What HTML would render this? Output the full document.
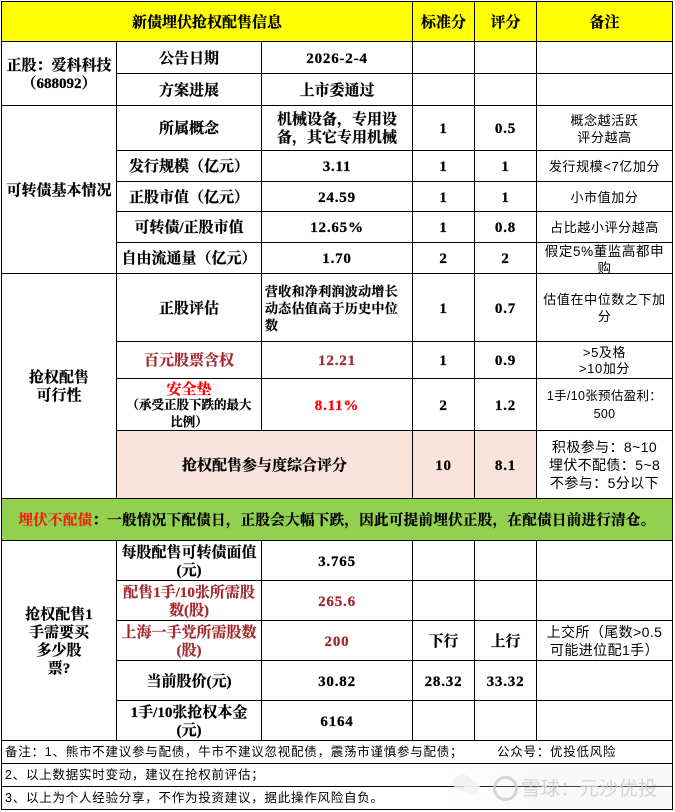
<!DOCTYPE html>
<html lang="zh">
<head>
<meta charset="utf-8">
<style>
html,body{margin:0;padding:0;background:#fff;}
#p{position:relative;width:675px;height:812px;overflow:hidden;background:#fff;font-family:"Liberation Serif","Noto Serif CJK SC",serif;color:#000;}
.c{position:absolute;display:flex;align-items:center;justify-content:center;text-align:center;box-sizing:border-box;font-size:15px;font-weight:700;line-height:18px;white-space:nowrap;padding-top:2px;-webkit-text-stroke:.25px currentColor;}
.n{font-family:"Liberation Serif","Noto Serif CJK SC",serif;font-size:15px;font-weight:700;letter-spacing:.8px;}
.s{font-family:"Liberation Sans","Noto Sans CJK SC",sans-serif;font-weight:400;font-size:13px;line-height:17px;letter-spacing:.6px;-webkit-text-stroke:0;padding-top:1px;}
.l{position:absolute;background:#000;}
.red{color:#a2292f;}
.bright{color:#f00;}
.f{position:absolute;left:5px;font-family:"Liberation Sans","Noto Sans CJK SC",sans-serif;font-size:12.5px;line-height:16px;white-space:nowrap;letter-spacing:.75px;}
</style>
</head>
<body>
<div id="p">
<!-- fills -->
<div style="position:absolute;left:1px;top:1px;width:672px;height:40px;background:#ffff00"></div>
<div style="position:absolute;left:116px;top:430px;width:420px;height:68px;background:#f9e3da"></div>
<div style="position:absolute;left:1px;top:498px;width:672px;height:42px;background:#92d050"></div>

<!-- horizontal lines -->
<div class="l" style="left:1px;top:1px;width:672px;height:1px"></div>
<div class="l" style="left:1px;top:41px;width:672px;height:1px"></div>
<div class="l" style="left:116px;top:73px;width:557px;height:1px"></div>
<div class="l" style="left:1px;top:105px;width:672px;height:1px"></div>
<div class="l" style="left:116px;top:150px;width:557px;height:1px"></div>
<div class="l" style="left:116px;top:181px;width:557px;height:1px"></div>
<div class="l" style="left:116px;top:211px;width:557px;height:1px"></div>
<div class="l" style="left:116px;top:242px;width:557px;height:1px"></div>
<div class="l" style="left:1px;top:273px;width:672px;height:1px"></div>
<div class="l" style="left:116px;top:341px;width:557px;height:1px"></div>
<div class="l" style="left:116px;top:378px;width:557px;height:1px"></div>
<div class="l" style="left:116px;top:430px;width:557px;height:1px"></div>
<div class="l" style="left:1px;top:498px;width:672px;height:1px"></div>
<div class="l" style="left:1px;top:540px;width:672px;height:1px"></div>
<div class="l" style="left:116px;top:580px;width:557px;height:1px"></div>
<div class="l" style="left:116px;top:620px;width:557px;height:1px"></div>
<div class="l" style="left:116px;top:660px;width:557px;height:1px"></div>
<div class="l" style="left:116px;top:700px;width:557px;height:1px"></div>
<div class="l" style="left:1px;top:740px;width:672px;height:1px"></div>
<div class="l" style="left:1px;top:763px;width:672px;height:1px"></div>
<div class="l" style="left:1px;top:786px;width:672px;height:1px"></div>
<div class="l" style="left:1px;top:809px;width:672px;height:1px"></div>

<!-- vertical lines -->
<div class="l" style="left:1px;top:1px;width:1px;height:809px"></div>
<div class="l" style="left:672px;top:1px;width:1px;height:809px"></div>
<div class="l" style="left:116px;top:41px;width:1px;height:457px"></div>
<div class="l" style="left:116px;top:540px;width:1px;height:200px"></div>
<div class="l" style="left:261px;top:41px;width:1px;height:389px"></div>
<div class="l" style="left:261px;top:540px;width:1px;height:200px"></div>
<div class="l" style="left:412px;top:1px;width:1px;height:497px"></div>
<div class="l" style="left:412px;top:540px;width:1px;height:200px"></div>
<div class="l" style="left:474px;top:1px;width:1px;height:497px"></div>
<div class="l" style="left:474px;top:540px;width:1px;height:200px"></div>
<div class="l" style="left:536px;top:1px;width:1px;height:497px"></div>
<div class="l" style="left:536px;top:540px;width:1px;height:200px"></div>

<!-- header -->
<div class="c" style="left:2px;top:2px;width:410px;height:39px">新债埋伏抢权配售信息</div>
<div class="c" style="left:413px;top:2px;width:61px;height:39px">标准分</div>
<div class="c" style="left:475px;top:2px;width:61px;height:39px">评分</div>
<div class="c" style="left:537px;top:2px;width:135px;height:39px">备注</div>

<!-- group 1 -->
<div class="c" style="left:2px;top:42px;width:114px;height:63px">正股：爱科科技<br>（688092）</div>
<div class="c" style="left:117px;top:42px;width:144px;height:31px">公告日期</div>
<div class="c n" style="left:262px;top:42px;width:150px;height:31px">2026-2-4</div>
<div class="c" style="left:117px;top:74px;width:144px;height:31px">方案进展</div>
<div class="c" style="left:262px;top:74px;width:150px;height:31px">上市委通过</div>

<!-- group 2 -->
<div class="c" style="left:2px;top:106px;width:114px;height:167px">可转债基本情况</div>
<div class="c" style="left:117px;top:106px;width:144px;height:44px">所属概念</div>
<div class="c" style="left:262px;top:106px;width:150px;height:44px">机械设备，专用设<br>备，其它专用机械</div>
<div class="c n" style="left:413px;top:106px;width:61px;height:44px">1</div>
<div class="c n" style="left:475px;top:106px;width:61px;height:44px">0.5</div>
<div class="c s" style="left:537px;top:106px;width:135px;height:44px">概念越活跃<br>评分越高</div>

<div class="c" style="left:117px;top:151px;width:144px;height:30px">发行规模（亿元）</div>
<div class="c n" style="left:262px;top:151px;width:150px;height:30px">3.11</div>
<div class="c n" style="left:413px;top:151px;width:61px;height:30px">1</div>
<div class="c n" style="left:475px;top:151px;width:61px;height:30px">1</div>
<div class="c s" style="left:537px;top:151px;width:135px;height:30px">发行规模&lt;7亿加分</div>

<div class="c" style="left:117px;top:182px;width:144px;height:29px">正股市值（亿元）</div>
<div class="c n" style="left:262px;top:182px;width:150px;height:29px">24.59</div>
<div class="c n" style="left:413px;top:182px;width:61px;height:29px">1</div>
<div class="c n" style="left:475px;top:182px;width:61px;height:29px">1</div>
<div class="c s" style="left:537px;top:182px;width:135px;height:29px">小市值加分</div>

<div class="c" style="left:117px;top:212px;width:144px;height:30px">可转债/正股市值</div>
<div class="c n" style="left:262px;top:212px;width:150px;height:30px">12.65%</div>
<div class="c n" style="left:413px;top:212px;width:61px;height:30px">1</div>
<div class="c n" style="left:475px;top:212px;width:61px;height:30px">0.8</div>
<div class="c s" style="left:537px;top:212px;width:135px;height:30px">占比越小评分越高</div>

<div class="c" style="left:117px;top:243px;width:144px;height:30px">自由流通量（亿元）</div>
<div class="c n" style="left:262px;top:243px;width:150px;height:30px">1.70</div>
<div class="c n" style="left:413px;top:243px;width:61px;height:30px">2</div>
<div class="c n" style="left:475px;top:243px;width:61px;height:30px">2</div>
<div class="c s" style="left:537px;top:243px;width:135px;height:30px;font-size:13.5px;line-height:17px;overflow:hidden;align-items:flex-start;padding-top:0">假定5%董监高都申<br>购</div>

<!-- group 3 -->
<div class="c" style="left:2px;top:274px;width:114px;height:224px">抢权配售<br>可行性</div>
<div class="c" style="left:117px;top:274px;width:144px;height:67px">正股评估</div>
<div class="c" style="left:265px;top:274px;width:147px;height:67px;font-size:13px;line-height:17px;letter-spacing:.3px;justify-content:flex-start;text-align:left">营收和净利润波动增长<br>动态估值高于历史中位<br>数</div>
<div class="c n" style="left:413px;top:274px;width:61px;height:67px">1</div>
<div class="c n" style="left:475px;top:274px;width:61px;height:67px">0.7</div>
<div class="c s" style="left:537px;top:274px;width:135px;height:67px">估值在中位数之下加<br>分</div>

<div class="c red" style="left:117px;top:342px;width:144px;height:36px">百元股票含权</div>
<div class="c n red" style="left:262px;top:342px;width:150px;height:36px">12.21</div>
<div class="c n" style="left:413px;top:342px;width:61px;height:36px">1</div>
<div class="c n" style="left:475px;top:342px;width:61px;height:36px">0.9</div>
<div class="c s" style="left:537px;top:342px;width:135px;height:36px;line-height:16px">&gt;5及格<br>&gt;10加分</div>

<div class="c" style="left:117px;top:379px;width:144px;height:51px;font-size:12.5px;line-height:17px;display:block;padding-top:1px"><span class="bright" style="font-size:15px;position:relative;top:2px">安全垫</span><br>（承受正股下跌的最大<br>比例）</div>
<div class="c n bright" style="left:262px;top:379px;width:150px;height:51px">8.11%</div>
<div class="c n" style="left:413px;top:379px;width:61px;height:51px">2</div>
<div class="c n" style="left:475px;top:379px;width:61px;height:51px">1.2</div>
<div class="c s" style="left:537px;top:379px;width:135px;height:51px;font-size:12.5px;line-height:18px;letter-spacing:.3px">1手/10张预估盈利：<br>500</div>

<div class="c" style="left:117px;top:431px;width:295px;height:67px">抢权配售参与度综合评分</div>
<div class="c n" style="left:413px;top:431px;width:61px;height:67px">10</div>
<div class="c n" style="left:475px;top:431px;width:61px;height:67px">8.1</div>
<div class="c s" style="left:537px;top:431px;width:135px;height:67px;font-size:14px;line-height:18px;letter-spacing:.4px">积极参与：8~10<br>埋伏不配债：5~8<br>不参与：5分以下</div>

<!-- green band -->
<div class="c" style="left:2px;top:499px;width:670px;height:41px;font-size:14.5px;letter-spacing:.32px"><span><span style="color:#f0200c">埋伏不配债</span>：一般情况下配债日，正股会大幅下跌，因此可提前埋伏正股，在配债日前进行清仓。</span></div>

<!-- group 4 -->
<div class="c" style="left:2px;top:541px;width:114px;height:199px;">抢权配售1<br>手需要买<br>多少股<br>票?</div>
<div class="c" style="left:117px;top:541px;width:144px;height:39px">每股配售可转债面值<br>(元)</div>
<div class="c n" style="left:262px;top:541px;width:150px;height:39px">3.765</div>
<div class="c red" style="left:117px;top:581px;width:144px;height:39px">配售1手/10张所需股<br>数(股)</div>
<div class="c n red" style="left:262px;top:581px;width:150px;height:39px">265.6</div>
<div class="c red" style="left:117px;top:621px;width:144px;height:39px">上海一手党所需股数<br>(股)</div>
<div class="c n red" style="left:262px;top:621px;width:150px;height:39px">200</div>
<div class="c" style="left:413px;top:621px;width:61px;height:39px">下行</div>
<div class="c" style="left:475px;top:621px;width:61px;height:39px">上行</div>
<div class="c s" style="left:537px;top:621px;width:135px;height:39px;font-size:14px;line-height:18px;letter-spacing:.4px">上交所（尾数&gt;0.5<br>可能进位配1手）</div>
<div class="c" style="left:117px;top:661px;width:144px;height:39px">当前股价(元)</div>
<div class="c n" style="left:262px;top:661px;width:150px;height:39px">30.82</div>
<div class="c n" style="left:413px;top:661px;width:61px;height:39px">28.32</div>
<div class="c n" style="left:475px;top:661px;width:61px;height:39px">33.32</div>
<div class="c" style="left:117px;top:701px;width:144px;height:39px">1手/10张抢权本金<br>(元)</div>
<div class="c n" style="left:262px;top:701px;width:150px;height:39px">6164</div>

<!-- footer -->
<div class="f" style="top:744px">备注：1、熊市不建议参与配债，牛市不建议忽视配债，震荡市谨慎参与配债；</div>
<div class="f" style="top:744px;left:497px">公众号：优投低风险</div>
<div class="f" style="top:767px">2、以上数据实时变动，建议在抢权前评估；</div>
<div class="f" style="top:790px">3、以上为个人经验分享，不作为投资建议，据此操作风险自负。</div>

<!-- watermark -->
<div style="position:absolute;left:440px;top:765px;width:232px;height:44px;background:linear-gradient(90deg,rgba(235,235,235,0),rgba(235,235,235,.3) 40%,rgba(235,235,235,.3));"></div>
<svg style="position:absolute;left:450px;top:772px" width="34" height="26" viewBox="0 0 34 26"><ellipse cx="13" cy="11" rx="10" ry="8" fill="rgba(238,238,238,.8)"/><ellipse cx="22" cy="16" rx="8" ry="6.5" fill="rgba(244,244,244,.9)"/></svg>
<div style="position:absolute;left:493px;top:776px;width:25px;height:25px;border:3px solid rgba(205,205,205,.8);border-radius:50%;box-sizing:border-box;"></div>
<div style="position:absolute;left:521px;top:776px;font-family:'Liberation Sans','Noto Sans CJK SC',sans-serif;font-size:19.5px;line-height:26px;color:rgba(205,205,205,.85);white-space:nowrap;">雪球：元沙优投</div>
</div>
</body>
</html>
